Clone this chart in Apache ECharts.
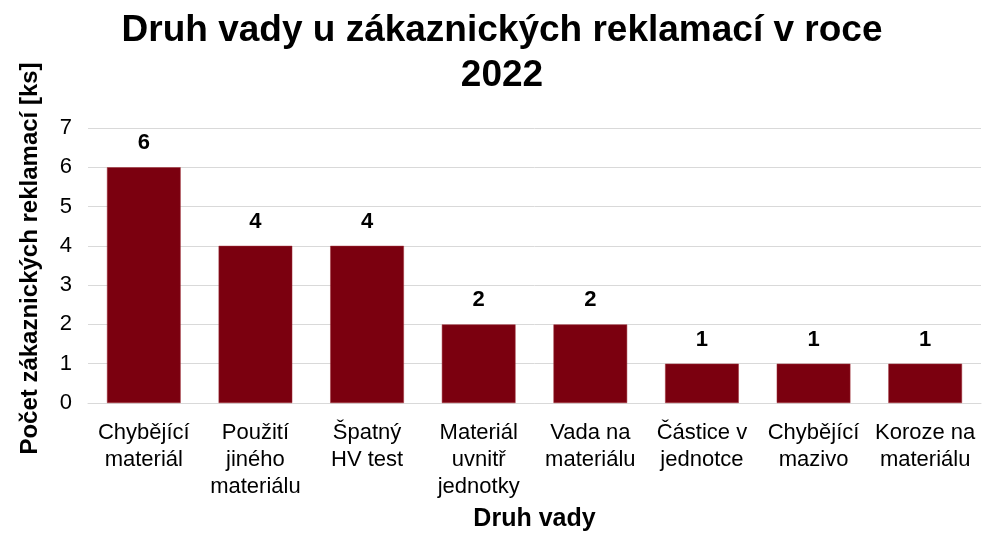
<!DOCTYPE html>
<html><head><meta charset="utf-8">
<script src="https://cdn.jsdelivr.net/npm/echarts@6/dist/echarts.min.js"></script>
<style>html,body{margin:0;padding:0;background:#fff}#c{width:983px;height:537px}</style>
</head><body><div id="c"></div>
<script>
const categories = ["Chybějící\nmateriál","Použití\njiného\nmateriálu","Špatný\nHV test","Materiál\nuvnitř\njednotky","Vada na\nmateriálu","Částice v\njednotce","Chybějící\nmazivo","Koroze na\nmateriálu"];
const values = [6,4,4,2,2,1,1,1];
const yTicks = [0,1,2,3,4,5,6,7];
const chart = echarts.init(document.getElementById('c'));
const F = "'Liberation Sans', Arial, sans-serif";
chart.setOption({
  animation:false,
  textStyle:{fontFamily:F},
  title:{text:"Druh vady u zákaznických reklamací v roce\n2022", left:497, top:3, textAlign:'center',
    textStyle:{fontSize:37, fontWeight:'bold', color:'#000', lineHeight:45, fontFamily:F}},
  grid:{left:88,right:2,top:128,bottom:132},
  xAxis:{type:'category',data:categories,
    axisLine:{lineStyle:{color:'#d9d9d9',width:1}},axisTick:{show:false},
    axisLabel:{color:'#000',fontSize:22,lineHeight:27,margin:16,interval:0,fontFamily:F},
    name:'Druh vady',nameLocation:'middle',nameGap:104,
    nameTextStyle:{color:'#000',fontSize:25,fontWeight:'bold',fontFamily:F}},
  yAxis:{type:'value',min:0,max:7,interval:1,
    axisLabel:{color:'#000',fontSize:22,margin:16,fontFamily:F,formatter:v=>yTicks.includes(v)?String(v):''},
    splitLine:{lineStyle:{color:'#d9d9d9',width:1}},
    name:'Počet zákaznických reklamací [ks]',nameLocation:'middle',nameGap:46,
    nameTextStyle:{color:'#000',fontSize:24,fontWeight:'bold',fontFamily:F,padding:[0,0,0,14]}},
  series:[{type:'bar',data:values,barWidth:'66%',
    itemStyle:{color:'#7b000f',borderColor:'#a0303a',borderWidth:0.5},
    label:{show:true,position:'top',distance:13,color:'#000',fontSize:22,fontWeight:'bold',fontFamily:F}}]
});
</script></body></html>
